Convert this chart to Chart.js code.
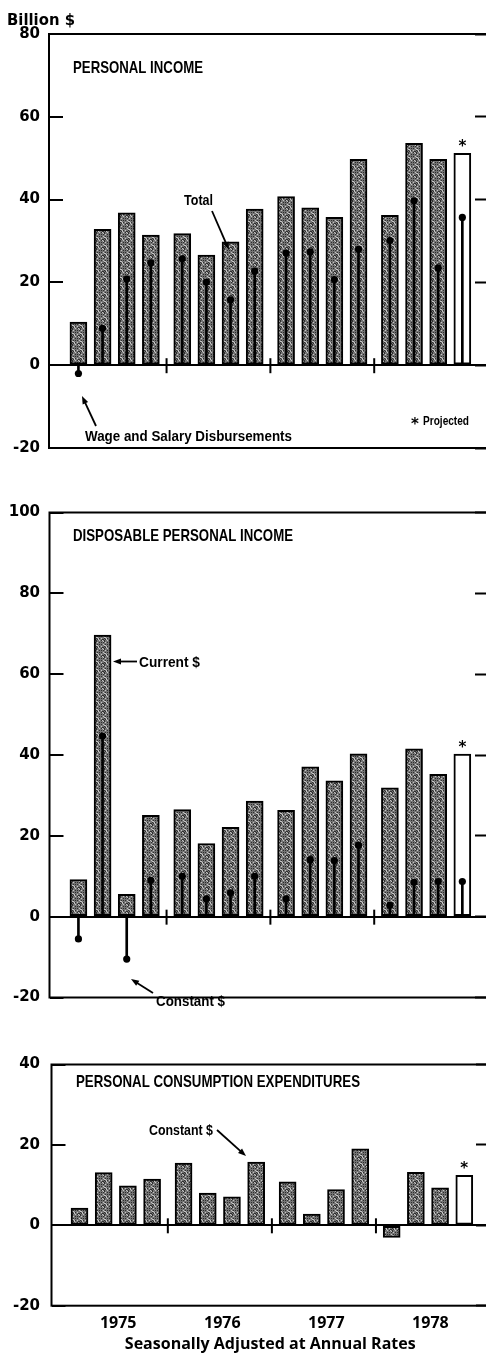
<!DOCTYPE html>
<html>
<head>
<meta charset="utf-8">
<script src="https://cdn.jsdelivr.net/npm/chart.js@4.4.1/dist/chart.umd.min.js"></script>
<style>
  html, body { margin: 0; padding: 0; background: #fff; overflow: hidden; width: 486px; height: 1354px; }
  canvas { position: absolute; left: 0; }
</style>
</head>
<body>
<canvas id="c1" width="492" height="480" style="top:0px"></canvas>
<canvas id="c2" width="492" height="550" style="top:480px"></canvas>
<canvas id="c3" width="492" height="324" style="top:1030px"></canvas>
<script>
// quarters 1975 I .. 1978 IV, last one projected
const quarters = ['1975 I', '1975 II', '1975 III', '1975 IV',
                  '1976 I', '1976 II', '1976 III', '1976 IV',
                  '1977 I', '1977 II', '1977 III', '1977 IV',
                  '1978 I', '1978 II', '1978 III', '1978 IV'];
const years = ['1975', '1976', '1977', '1978'];
const projectedQuarter = '1978 IV';

// Personal income (billion $, change at annual rates)
const incomeTotal = [10.4, 32.8, 36.8, 31.4, 31.8, 26.6, 29.8, 37.7, 40.7, 38.0, 35.7, 49.7, 36.2, 53.6, 49.7, 51.2];
const wageSalary  = [-2.0, 8.9, 20.8, 24.7, 25.7, 20.1, 15.8, 22.7, 27.1, 27.4, 20.7, 28.0, 30.1, 39.7, 23.5, 35.7];

// Disposable personal income
const dpiCurrent  = [9.2, 69.7, 5.5, 25.1, 26.5, 18.1, 22.1, 28.6, 26.3, 37.1, 33.6, 40.3, 31.9, 41.5, 35.2, 40.2];
const dpiConstant = [-5.5, 44.7, -10.5, 9.0, 10.0, 4.4, 5.9, 10.0, 4.4, 14.1, 13.9, 17.7, 2.8, 8.5, 8.7, 8.7];

// Personal consumption expenditures, constant $
const pceConstant = [4.3, 13.1, 9.8, 11.5, 15.5, 8.0, 7.1, 15.7, 10.8, 2.8, 8.9, 19.0, -3.0, 13.2, 9.3, 12.4];

const yTicksIncome = [-20, 0, 20, 40, 60, 80];
const yTicksDpi = [-20, 0, 20, 40, 60, 80, 100];
const yTicksPce = [-20, 0, 20, 40];

// layout
const UNIT = 24.2;      // px per quarter
const YEAR_GAP = 0.3;   // extra space between year groups
const PLOT_RIGHT = 489;
const xPos = i => i + Math.floor(i / 4) * YEAR_GAP;
const yearCenter = k => xPos(k * 4) + 1.6;
const yearSeps = [1, 2, 3].map(k => (xPos(k * 4 - 1) + xPos(k * 4)) / 2);

function makeStipple() {
    const c = document.createElement('canvas');
    c.width = c.height = 8;
    const g = c.getContext('2d');
    g.fillStyle = '#747474';
    g.fillRect(0, 0, 8, 8);
    for (let y = 0; y < 8; y++) {
        for (let x = 0; x < 8; x++) {
            const h = (x * 7 + y * 13 + x * y * 5) % 11;
            if (h < 3) { g.fillStyle = '#2e2e2e'; g.fillRect(x, y, 1, 1); }
            else if (h > 8) { g.fillStyle = '#c4c4c4'; g.fillRect(x, y, 1, 1); }
        }
    }
    return g.createPattern(c, 'repeat');
}
const stipple = makeStipple();

function text(ctx, s, x, y, font, maxW) {
    ctx.font = font;
    ctx.fillStyle = '#000';
    ctx.textAlign = 'left';
    ctx.textBaseline = 'alphabetic';
    if (maxW) ctx.fillText(s, x, y, maxW); else ctx.fillText(s, x, y);
}

function arrow(ctx, x1, y1, x2, y2) {
    const a = Math.atan2(y2 - y1, x2 - x1);
    ctx.strokeStyle = '#000';
    ctx.fillStyle = '#000';
    ctx.lineWidth = 1.8;
    ctx.beginPath();
    ctx.moveTo(x1, y1);
    ctx.lineTo(x2 - Math.cos(a) * 4, y2 - Math.sin(a) * 4);
    ctx.stroke();
    ctx.beginPath();
    ctx.moveTo(x2, y2);
    ctx.lineTo(x2 - 8 * Math.cos(a) + 3 * Math.sin(a), y2 - 8 * Math.sin(a) - 3 * Math.cos(a));
    ctx.lineTo(x2 - 8 * Math.cos(a) - 3 * Math.sin(a), y2 - 8 * Math.sin(a) + 3 * Math.cos(a));
    ctx.closePath();
    ctx.fill();
}

const COND = 'bold 15px "Liberation Sans", Arial, sans-serif';
const TITLE = 'bold 17px "Liberation Sans", Arial, sans-serif';

function framePlugin(p) {
    return {
        id: 'frame',
        afterDraw(chart) {
            const ctx = chart.ctx;
            const a = chart.chartArea;
            const xs = chart.scales.x, ys = chart.scales.y;
            ctx.save();
            ctx.strokeStyle = '#000';
            ctx.lineWidth = 2;
            ctx.strokeRect(a.left, a.top, a.right - a.left, a.bottom - a.top);
            // year separators on the zero line
            const y0 = ys.getPixelForValue(0);
            yearSeps.forEach(v => {
                const x = xs.getPixelForValue(v);
                ctx.beginPath();
                ctx.moveTo(x, y0 - 7);
                ctx.lineTo(x, y0 + 8);
                ctx.stroke();
            });
            // projected asterisk
            const last = quarters.indexOf(projectedQuarter);
            ctx.font = 'bold 15px "DejaVu Sans", sans-serif';
            ctx.textAlign = 'center';
            ctx.textBaseline = 'middle';
            ctx.fillStyle = '#000';
            ctx.fillText('*', xs.getPixelForValue(xPos(last)), ys.getPixelForValue(p.bars[last]) - 6);
            p.notes(ctx, p.top);
            ctx.restore();
        }
    };
}

function makeChart(id, p) {
    const xMin = -(p.firstBar - p.axisLeft) / UNIT;
    const xMax = xMin + (PLOT_RIGHT - p.axisLeft) / UNIT;
    const datasets = [{
        type: 'bar',
        data: p.bars.map((v, i) => ({ x: xPos(i), y: v })),
        backgroundColor: quarters.map(q => q === projectedQuarter ? '#fff' : stipple),
        borderColor: '#000',
        borderWidth: 2,
        borderSkipped: false,
        barThickness: 17,
        grouped: false,
        order: 3
    }];
    if (p.dots) {
        datasets.push({
            type: 'bar',
            data: p.dots.map((v, i) => ({ x: xPos(i), y: [0, v] })),
            backgroundColor: '#000',
            borderWidth: 0,
            barThickness: 2,
            grouped: false,
            order: 2
        });
        datasets.push({
            type: 'line',
            data: p.dots.map((v, i) => ({ x: xPos(i), y: v })),
            showLine: false,
            pointRadius: 3.6,
            pointBackgroundColor: '#000',
            pointBorderWidth: 0,
            order: 1
        });
    }
    const yFont = { family: '"DejaVu Sans", sans-serif', size: 15, weight: 'bold' };
    new Chart(document.getElementById(id), {
        type: 'bar',
        data: { datasets },
        options: {
            responsive: false,
            animation: false,
            layout: { padding: { top: p.padTop, left: 0, right: 0, bottom: 0 } },
            plugins: { legend: { display: false }, tooltip: { enabled: false } },
            scales: {
                x: {
                    type: 'linear',
                    offset: false,
                    min: xMin,
                    max: xMax,
                    afterBuildTicks: s => { s.ticks = years.map((y, k) => ({ value: yearCenter(k) })); },
                    afterFit: s => { s.height = p.xAxisH; },
                    grid: { display: false },
                    border: { display: false },
                    ticks: {
                        display: !!p.yearLabels,
                        autoSkip: false,
                        maxRotation: 0,
                        padding: 0,
                        color: '#000',
                        font: { family: '"Open Sans", sans-serif', size: 16, weight: 'bold' },
                        callback: (v, i) => years[i]
                    },
                    title: {
                        display: !!p.yearLabels,
                        text: 'Seasonally Adjusted at Annual Rates',
                        color: '#000',
                        font: { family: '"Open Sans", sans-serif', size: 16, weight: 'bold' },
                        padding: { top: 0, bottom: 0 }
                    }
                },
                y: {
                    min: p.yTicks[0],
                    max: p.yTicks[p.yTicks.length - 1],
                    afterBuildTicks: s => { s.ticks = p.yTicks.map(v => ({ value: v })); },
                    afterFit: s => { s.width = p.axisLeft; },
                    border: { display: false },
                    grid: {
                        drawOnChartArea: true,
                        color: c => (c.tick && c.tick.value === 0) ? '#000' : 'rgba(0,0,0,0)',
                        lineWidth: 2,
                        tickColor: '#000',
                        tickWidth: 2,
                        tickLength: -14
                    },
                    ticks: { color: '#000', font: yFont, padding: p.axisLeft + 14 - 40 }
                },
                y2: {
                    position: 'right',
                    min: p.yTicks[0],
                    max: p.yTicks[p.yTicks.length - 1],
                    afterBuildTicks: s => { s.ticks = p.yTicks.map(v => ({ value: v })); },
                    afterFit: s => { s.width = 492 - PLOT_RIGHT; },
                    border: { display: false },
                    grid: { drawOnChartArea: false, tickColor: '#000', tickWidth: 2, tickLength: -13 },
                    ticks: { display: false }
                }
            }
        },
        plugins: [framePlugin(p)]
    });
}

makeChart('c1', {
    top: 0, padTop: 34, xAxisH: 13, axisLeft: 49, firstBar: 78.5,
    yTicks: yTicksIncome, bars: incomeTotal, dots: wageSalary,
    notes(ctx, t) {
        text(ctx, 'Billion $', 7, 25 - t, 'bold 15px "DejaVu Sans", sans-serif', 68);
        text(ctx, 'PERSONAL INCOME', 73, 73 - t, TITLE, 130);
        text(ctx, 'Total', 184, 205 - t, 'bold 14px "Liberation Sans", Arial, sans-serif', 29);
        arrow(ctx, 212, 211 - t, 229, 250 - t);
        text(ctx, 'Wage and Salary Disbursements', 85, 441 - t, COND, 207);
        arrow(ctx, 96, 426 - t, 82, 396 - t);
        text(ctx, '*', 411, 429 - t, 'bold 15px "DejaVu Sans", sans-serif');
        text(ctx, 'Projected', 423, 425 - t, 'bold 12.5px "Liberation Sans", Arial, sans-serif', 46);
    }
});

makeChart('c2', {
    top: 480, padTop: 20.5, xAxisH: 12.3, axisLeft: 49.5, firstBar: 78.5,
    yTicks: yTicksDpi, bars: dpiCurrent, dots: dpiConstant,
    notes(ctx, t) {
        text(ctx, 'DISPOSABLE PERSONAL INCOME', 73, 541 - t, TITLE, 220);
        text(ctx, 'Current $', 139, 667 - t, COND, 61);
        arrow(ctx, 137, 661.5 - t, 113, 661.5 - t);
        text(ctx, 'Constant $', 156, 1006 - t, COND, 69);
        arrow(ctx, 153, 993 - t, 131, 979 - t);
    }
});

makeChart('c3', {
    top: 1030, padTop: 20.7, xAxisH: 48.3, axisLeft: 51.5, firstBar: 79.5,
    yTicks: yTicksPce, bars: pceConstant, dots: null, yearLabels: true,
    notes(ctx, t) {
        text(ctx, 'PERSONAL CONSUMPTION EXPENDITURES', 76, 1087 - t, TITLE, 284);
        text(ctx, 'Constant $', 149, 1135 - t, COND, 64);
        arrow(ctx, 217, 1130 - t, 246, 1156 - t);
    }
});
</script>
</body>
</html>
